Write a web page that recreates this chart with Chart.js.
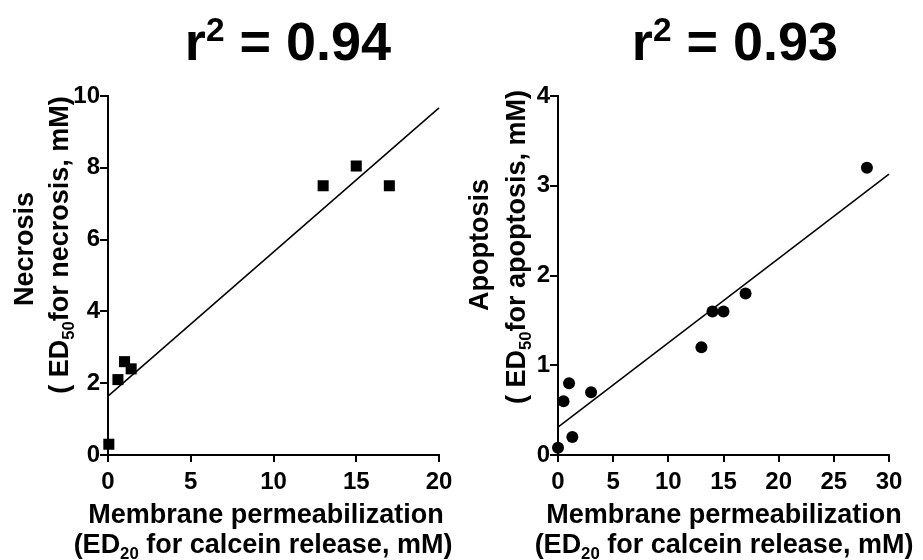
<!DOCTYPE html>
<html><head><meta charset="utf-8">
<script src="https://cdn.jsdelivr.net/npm/chart.js@4"></script>
<style>
html,body{margin:0;padding:0;background:#fff;}
#wrap{position:relative;width:923px;height:560px;overflow:hidden;}
canvas{position:absolute;top:0;}
</style></head><body>
<div id="wrap">
<canvas id="c1" width="461" height="560" style="left:0;width:461px;height:560px"></canvas>
<canvas id="c2" width="462" height="560" style="left:461px;width:462px;height:560px"></canvas>
</div>
<script>
// ---- data ----
const necrosisX = [0.05, 0.6, 1.0, 1.4, 13, 15, 17];
const necrosisY = [0.3, 2.1, 2.6, 2.4, 7.5, 8.05, 7.5];
const necrosisFitX = [0, 20];
const necrosisFitY = [1.64, 9.67];
const apoptosisX = [0, 0.5, 1, 1.3, 3, 13, 14, 15, 17, 28];
const apoptosisY = [0.08, 0.6, 0.8, 0.2, 0.7, 1.2, 1.6, 1.6, 1.8, 3.2];
const apoptosisFitX = [0, 30];
const apoptosisFitY = [0.31, 3.13];
const necrosisXTicks = [0, 5, 10, 15, 20];
const necrosisYTicks = [0, 2, 4, 6, 8, 10];
const apoptosisXTicks = [0, 5, 10, 15, 20, 25, 30];
const apoptosisYTicks = [0, 1, 2, 3, 4];
const r2Values = ['0.94', '0.93'];
const yTitleMain = ['Necrosis', 'Apoptosis'];
const yTitleSub = [['( ED', '50', 'for necrosis, mM)'], ['( ED', '50', 'for apoptosis, mM)']];
const xTitleMain = 'Membrane permeabilization';
const xTitleSub = ['(ED', '20', ' for calcein release, mM)'];

const FAM = '"Liberation Sans", Arial, Helvetica, sans-serif';
Chart.defaults.font.family = FAM;
Chart.defaults.color = '#000';

function font(size){ return 'bold ' + size + 'px ' + FAM; }

// segs: [{t, mode:'n'|'sub'|'sup'}], draws centered at (0,0) baseline
function drawRich(ctx, segs, size){
  let total = 0;
  const ws = segs.map(s => {
    ctx.font = font(s.mode === 'n' ? size : size * 0.62);
    const w = ctx.measureText(s.t).width; total += w; return w;
  });
  let x = -total / 2;
  ctx.textAlign = 'left';
  ctx.textBaseline = 'alphabetic';
  segs.forEach((s, i) => {
    ctx.font = font(s.mode === 'n' ? size : size * 0.62);
    const dy = s.mode === 'sub' ? size * 0.22 : (s.mode === 'sup' ? -size * 0.36 : 0);
    ctx.fillText(s.t, x, dy);
    x += ws[i];
  });
}
function subSegs(arr){ return [{t:arr[0],mode:'n'},{t:arr[1],mode:'sub'},{t:arr[2],mode:'n'}]; }

function textPlugin(cfg){
  return {
    id: 'texts',
    afterDraw(chart){
      const ctx = chart.ctx;
      ctx.save();
      ctx.fillStyle = '#000';
      // title
      ctx.save(); ctx.translate(cfg.titleX, 60);
      drawRich(ctx, [{t:'r',mode:'n'},{t:'2',mode:'sup'},{t:' = ' + cfg.r2,mode:'n'}], 54);
      ctx.restore();
      // y titles
      ctx.save(); ctx.translate(cfg.y1X, cfg.y1Y); ctx.rotate(-Math.PI/2);
      drawRich(ctx, [{t:cfg.y1, mode:'n'}], 27); ctx.restore();
      ctx.save(); ctx.translate(cfg.y2X, cfg.y2Y); ctx.rotate(-Math.PI/2);
      drawRich(ctx, subSegs(cfg.y2), 27); ctx.restore();
      // x titles
      ctx.save(); ctx.translate(cfg.xX, 523);
      drawRich(ctx, [{t:xTitleMain, mode:'n'}], 27); ctx.restore();
      ctx.save(); ctx.translate(cfg.xX2, 553);
      drawRich(ctx, subSegs(xTitleSub), 27); ctx.restore();
      ctx.restore();
    }
  };
}

function makeChart(id, opt){
  const pts = opt.xs.map((x, i) => ({x, y: opt.ys[i]}));
  const fit = opt.fx.map((x, i) => ({x, y: opt.fy[i]}));
  const axisCommon = (ticksArr, afterFit, tl, pad) => ({
    type: 'linear',
    afterBuildTicks: s => { s.ticks = ticksArr.map(v => ({value: v})); },
    grid: {display: true, drawOnChartArea: false, drawTicks: true, tickLength: tl, color: '#000', lineWidth: 2},
    border: {display: true, color: '#000', width: 2},
    ticks: {color: '#000', font: {size: 24, weight: 'bold'}, maxRotation: 0, autoSkip: false, padding: pad},
    afterFit
  });
  const xs = axisCommon(opt.xt, s => { s.height = 105; }, 7, 6);
  xs.min = opt.xt[0]; xs.max = opt.xt[opt.xt.length-1];
  const ys = axisCommon(opt.yt, s => { s.width = opt.yWidth; }, 8, 0);
  ys.min = opt.yt[0]; ys.max = opt.yt[opt.yt.length-1];
  return new Chart(document.getElementById(id), {
    type: 'scatter',
    data: {datasets: [
      {data: fit, showLine: true, borderColor: '#000', borderWidth: 1.5, pointRadius: 0, clip: false, order: 2},
      {data: pts, pointStyle: opt.style, pointRadius: opt.radius, backgroundColor: '#000', borderWidth: 0, clip: false, order: 1}
    ]},
    options: {
      responsive: false, animation: false, devicePixelRatio: 1,
      layout: {padding: {top: 96, right: opt.rightPad, left: 0, bottom: 0}},
      plugins: {legend: {display: false}, tooltip: {enabled: false}},
      scales: {x: xs, y: ys}
    },
    plugins: [textPlugin(opt.text)]
  });
}

makeChart('c1', {
  xs: necrosisX, ys: necrosisY, fx: necrosisFitX, fy: necrosisFitY,
  xt: necrosisXTicks, yt: necrosisYTicks, style: 'rect', radius: 7.8,
  yWidth: 108, rightPad: 22,
  text: {titleX: 288, r2: r2Values[0], y1: yTitleMain[0], y1X: 33, y1Y: 249, y2: yTitleSub[0], y2X: 68, y2Y: 245, xX: 266, xX2: 263}
});
makeChart('c2', {
  xs: apoptosisX, ys: apoptosisY, fx: apoptosisFitX, fy: apoptosisFitY,
  xt: apoptosisXTicks, yt: apoptosisYTicks, style: 'circle', radius: 6,
  yWidth: 97, rightPad: 34,
  text: {titleX: 274, r2: r2Values[1], y1: yTitleMain[1], y1X: 27, y1Y: 245, y2: yTitleSub[1], y2X: 64, y2Y: 247, xX: 263, xX2: 263}
});
</script>
</body></html>
